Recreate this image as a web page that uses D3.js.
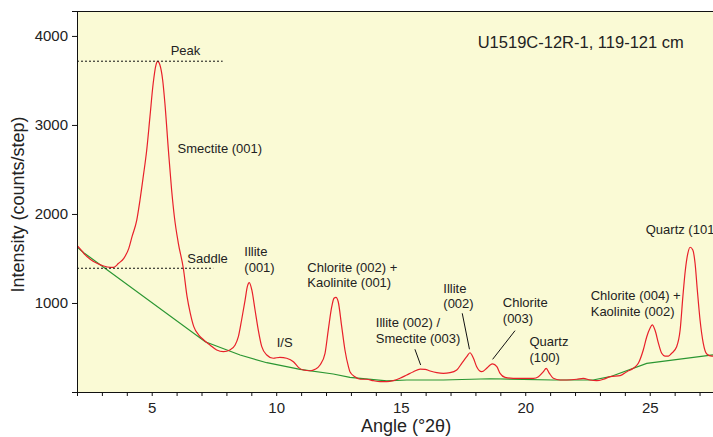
<!DOCTYPE html>
<html>
<head>
<meta charset="utf-8">
<script src="https://cdn.jsdelivr.net/npm/d3@7"></script>
<style>
  body { margin: 0; background: #fff; }
  svg { display: block; font-family: "Liberation Sans", Arial, sans-serif; }
</style>
</head>
<body>
<div id="chart"></div>
<script>
const width = 713;
const height = 437;
const margin = {top: 11, right: 0, bottom: 45, left: 77};

// Measured pattern (red)
const angle = [2.00, 2.11, 2.27, 2.53, 2.80, 3.07, 3.34, 3.47, 3.67, 3.88, 4.08, 4.21, 4.40, 4.53, 4.66, 4.80,
  4.93, 5.06, 5.17, 5.24, 5.33, 5.44, 5.53, 5.67, 5.80, 5.91, 6.07, 6.27, 6.42, 6.55, 6.69, 6.89, 7.09, 7.34,
  7.61, 7.88, 8.14, 8.35, 8.48, 8.61, 8.75, 8.84, 8.92, 9.02, 9.15, 9.28, 9.42, 9.62, 9.88, 10.15, 10.42,
  10.69, 10.89, 11.09, 11.36, 11.56, 11.76, 11.96, 12.09, 12.23, 12.32, 12.40, 12.49, 12.63, 12.76, 12.90,
  12.96, 13.16, 13.37, 13.63, 13.90, 14.17, 14.44, 14.70, 14.97, 15.24, 15.51, 15.78, 15.98, 16.18, 16.45,
  16.71, 16.98, 17.25, 17.45, 17.65, 17.78, 17.92, 18.05, 18.25, 18.45, 18.59, 18.69, 18.86, 18.99, 19.19,
  19.52, 19.92, 20.33, 20.53, 20.73, 20.84, 20.97, 21.13, 21.40, 21.67, 22.07, 22.33, 22.60, 22.87, 23.14,
  23.41, 23.81, 24.08, 24.34, 24.54, 24.74, 24.88, 25.01, 25.10, 25.21, 25.35, 25.48, 25.61, 25.75, 25.88,
  26.08, 26.22, 26.33, 26.43, 26.53, 26.62, 26.73, 26.82, 26.91, 27.02, 27.15, 27.29, 27.49, 27.54];
const counts = [1648, 1614, 1558, 1491, 1446, 1415, 1401, 1401, 1446, 1502, 1614, 1745, 1932, 2157, 2419, 2719,
  3093, 3468, 3673, 3713, 3673, 3505, 3243, 2719, 2269, 1969, 1670, 1390, 1071, 884, 734, 640, 584, 528,
  472, 453, 472, 528, 621, 809, 1033, 1183, 1228, 1146, 921, 696, 509, 416, 379, 390, 379,
  340, 277, 247, 239, 255, 303, 435, 696, 958, 1053, 1064, 1014, 734, 472, 284,
  228, 172, 143, 143, 127, 116, 116, 127, 154, 191, 228, 258, 255, 236, 217,
  210, 217, 247, 322, 397, 441, 379, 284, 228, 266, 303, 315, 284, 210, 165,
  154, 154, 154, 172, 228, 266, 210, 154, 135, 135, 143, 154, 135, 127, 143,
  172, 183, 228, 266, 322, 472, 621, 716, 753, 696, 547, 435, 404, 404, 435,
  509, 696, 1071, 1371, 1558, 1626, 1595, 1446, 1146, 809, 547, 427, 404, 404];

// Background (green)
const baseAngle = [2.00, 2.27, 7.15, 8.55, 9.62, 10.96, 12.29, 12.96, 14.44, 15.24, 16.71, 18.59, 21.12, 22.72, 23.41, 24.88, 27.54];
const baseCounts = [1630, 1565, 565, 416, 329, 255, 202, 165, 124, 135, 135, 149, 135, 135, 172, 322, 416];

const angleTicks = d3.range(2, 28);
const angleLabels = [5, 10, 15, 20, 25];
const countTicks = [1000, 2000, 3000, 4000];

const peakCounts = 3716;
const saddleCounts = 1390;
const peakLineEnd = 7.85;
const saddleLineEnd = 7.47;

// Annotations: text lines, anchor angle, anchor counts
const labelLines = [["Peak"], ["Smectite (001)"], ["Saddle"], ["Illite", "(001)"],
  ["Chlorite (002) +", "Kaolinite (001)"], ["I/S"], ["Illite (002) /", "Smectite (003)"],
  ["Illite", "(002)"], ["Chlorite", "(003)"], ["Quartz", "(100)"],
  ["Chlorite (004) +", "Kaolinite (002)"], ["Quartz (101)"]];
const labelAngle = [5.76, 6.04, 6.43, 8.72, 11.25, 10.02, 14.00, 16.71, 19.10, 20.17, 22.63, 24.84];
const labelCounts = [3786, 2680, 1453, 1528, 1352, 502, 727, 1116, 952, 520, 1034, 1775];

// Leader lines [angle1, counts1, angle2, counts2]
const leaders = [[15.57, 480, 15.80, 303], [17.47, 884, 17.76, 480], [19.59, 689, 18.69, 367]];

const x = d3.scaleLinear().domain([2, 27.54]).range([margin.left, width - margin.right]);
const y = d3.scaleLinear().domain([0, 4280]).range([height - margin.bottom, margin.top]);

const svg = d3.select("#chart").append("svg")
  .attr("width", width)
  .attr("height", height);

svg.append("rect")
  .attr("x", x.range()[0]).attr("y", y.range()[1])
  .attr("width", x.range()[1] - x.range()[0])
  .attr("height", y.range()[0] - y.range()[1])
  .attr("fill", "#fafad5");

svg.append("defs").append("clipPath").attr("id", "plot")
  .append("rect")
  .attr("x", x.range()[0]).attr("y", y.range()[1])
  .attr("width", x.range()[1] - x.range()[0])
  .attr("height", y.range()[0] - y.range()[1]);

const line = d3.line().x(d => x(d[0])).y(d => y(d[1])).curve(d3.curveMonotoneX);

const g = svg.append("g").attr("clip-path", "url(#plot)");

g.append("path")
  .datum(baseAngle.map((a, i) => [a, baseCounts[i]]))
  .attr("fill", "none")
  .attr("stroke", "#2a9632")
  .attr("stroke-width", 1.2)
  .attr("d", d3.line().x(d => x(d[0])).y(d => y(d[1])));

g.append("path")
  .datum(angle.map((a, i) => [a, counts[i]]))
  .attr("fill", "none")
  .attr("stroke", "#e8202a")
  .attr("stroke-width", 1.2)
  .attr("d", line);

// Peak and saddle reference lines
[[peakCounts, peakLineEnd], [saddleCounts, saddleLineEnd]].forEach(([c, end]) => {
  svg.append("line")
    .attr("x1", x(2)).attr("x2", x(end))
    .attr("y1", y(c)).attr("y2", y(c))
    .attr("stroke", "#111")
    .attr("stroke-width", 1)
    .attr("stroke-dasharray", "2,2");
});

svg.selectAll(".leader")
  .data(leaders)
  .join("line")
  .attr("class", "leader")
  .attr("x1", d => x(d[0])).attr("y1", d => y(d[1]))
  .attr("x2", d => x(d[2])).attr("y2", d => y(d[3]))
  .attr("stroke", "#111")
  .attr("stroke-width", 1);

const labels = svg.selectAll(".label")
  .data(labelLines)
  .join("text")
  .attr("class", "label")
  .attr("x", (d, i) => x(labelAngle[i]))
  .attr("y", (d, i) => y(labelCounts[i]))
  .style("font-size", "13px")
  .style("fill", "#222");

labels.selectAll("tspan")
  .data(d => d)
  .join("tspan")
  .attr("x", function () { return this.parentNode.getAttribute("x"); })
  .attr("dy", (d, i) => i === 0 ? 0 : 15.8)
  .text(d => d);

svg.append("text")
  .attr("x", 477.7).attr("y", 47.7)
  .style("font-size", "16.5px")
  .style("fill", "#222")
  .text("U1519C-12R-1, 119-121 cm");

// Axes
const xAxis = svg.append("g")
  .attr("transform", `translate(0,${y.range()[0]})`)
  .call(d3.axisBottom(x)
    .tickValues(angleTicks)
    .tickSize(4)
    .tickPadding(6)
    .tickFormat(d => angleLabels.includes(d) ? d : ""));

const yAxis = svg.append("g")
  .attr("transform", `translate(${x.range()[0]},0)`)
  .call(d3.axisLeft(y)
    .tickValues(countTicks)
    .tickSize(5)
    .tickPadding(4)
    .tickFormat(d3.format("d")));

[xAxis, yAxis].forEach(a => {
  a.select(".domain").attr("stroke", "#111");
  a.selectAll(".tick line").attr("stroke", "#111");
  a.selectAll(".tick text")
    .style("font-size", "15px")
    .style("font-family", "'Liberation Sans', Arial, sans-serif")
    .attr("fill", "#222");
});

// top border
svg.append("line")
  .attr("x1", x.range()[0]).attr("x2", x.range()[1])
  .attr("y1", y.range()[1] + 0.5).attr("y2", y.range()[1] + 0.5)
  .attr("stroke", "#111");

svg.append("text")
  .attr("x", 406).attr("y", 432)
  .attr("text-anchor", "middle")
  .style("font-size", "18px")
  .style("fill", "#222")
  .text("Angle (°2θ)");

svg.append("text")
  .attr("transform", "translate(24,204.5) rotate(-90)")
  .attr("text-anchor", "middle")
  .style("font-size", "18px")
  .style("fill", "#222")
  .text("Intensity (counts/step)");
</script>
</body>
</html>
